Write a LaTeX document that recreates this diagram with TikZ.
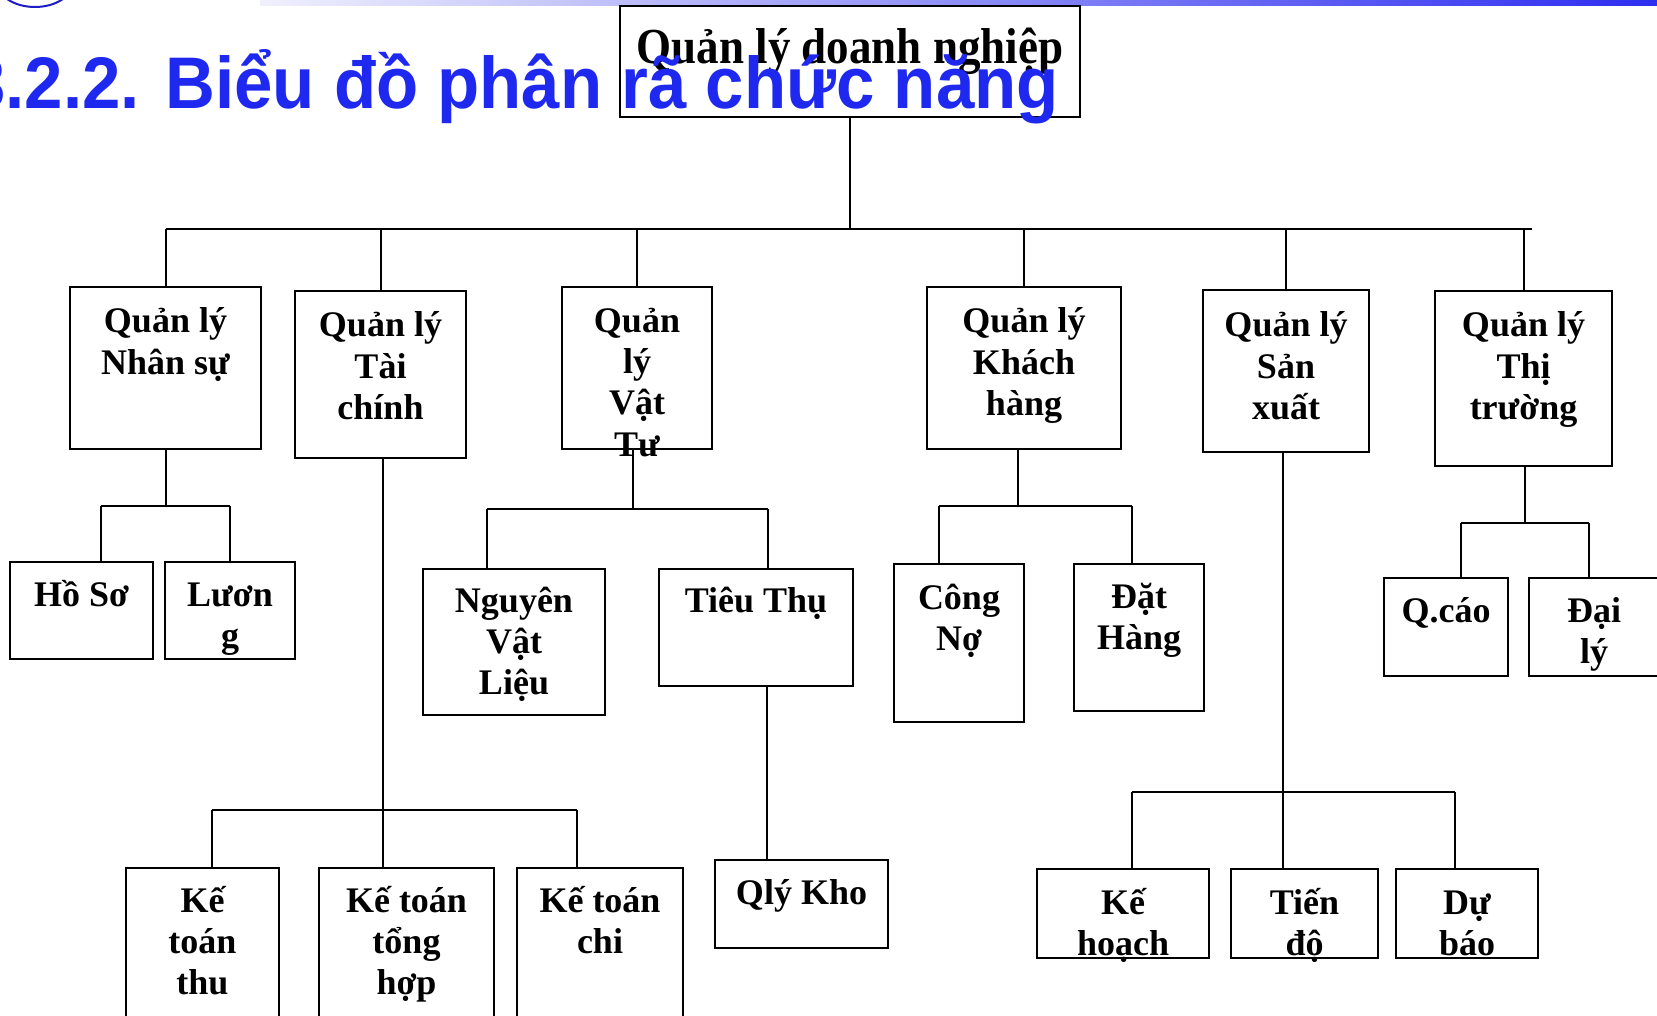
\documentclass[tikz,border=0pt]{standalone}
\usepackage{fontspec}
\usepackage{graphicx}
\setmainfont{Liberation Serif}
\newfontfamily\titlefont{Liberation Sans}
\definecolor{titleblue}{RGB}{30,40,238}
\definecolor{barblue}{RGB}{45,45,240}
\definecolor{barlight}{RGB}{240,240,253}
\definecolor{arcblue}{RGB}{30,30,200}
\newcommand\mkbox[5]{\node[box, minimum width={(#4-#2)*1pt}, minimum height={(#5-#3)*1pt}] (#1) at ({(#2+#4)/2},{(#3+#5)/2}) {};}
\newcommand\mklbl[4]{\node[lbl] (#1) at (#2,#3) {\begin{tabular}[t]{@{}c@{}}#4\end{tabular}};}
\begin{document}
\begin{tikzpicture}[x=1pt,y=-1pt,
  box/.style={draw=black, line width=2pt, rectangle, inner sep=0pt},
  lbl/.style={anchor=base, inner sep=0pt, font=\bfseries\fontsize{36}{41.4}\selectfont},
  conn/.style={draw=black, line width=2pt}]
\path[use as bounding box] (0,0) rectangle (1657,1016);
\clip (0,0) rectangle (1657,1016);
\fill[white] (0,0) rectangle (1657,1016);
% top decoration
\shade[left color=barlight, right color=barblue] (260,0) rectangle (1657,6);
\draw[arcblue, line width=2pt] (35,-18) ellipse [x radius=38, y radius=25];
% boxes
\mkbox{root}{620}{6}{1080}{117}
\mkbox{ns}{70}{287}{261}{449}
\mkbox{tc}{295}{291}{466}{458}
\mkbox{vt}{562}{287}{712}{449}
\mkbox{kh}{927}{287}{1121}{449}
\mkbox{sx}{1203}{290}{1369}{452}
\mkbox{tt}{1435}{291}{1612}{466}
\mkbox{hs}{10}{562}{153}{659}
\mkbox{lu}{165}{562}{295}{659}
\mkbox{kthu}{126}{868}{279}{1040}
\mkbox{ktth}{319}{868}{494}{1040}
\mkbox{kchi}{517}{868}{683}{1040}
\mkbox{nvl}{423}{569}{605}{715}
\mkbox{tth}{659}{569}{853}{686}
\mkbox{kho}{715}{860}{888}{948}
\mkbox{cn}{894}{564}{1024}{722}
\mkbox{dh}{1074}{564}{1204}{711}
\mkbox{khoach}{1037}{869}{1209}{958}
\mkbox{td}{1231}{869}{1378}{958}
\mkbox{db}{1396}{869}{1538}{958}
\mkbox{qc}{1384}{578}{1508}{676}
\mkbox{dl}{1529}{578}{1662}{676}
% connectors: root bus
\coordinate (busL) at (165.5,229);
\coordinate (busR) at (1532,229);
\draw[conn] (root.south) -- (root.south |- busL);
\draw[conn] (busL) -- (busR);
\foreach \n in {ns,tc,vt,kh,sx,tt} \draw[conn] (\n.north) -- (\n.north |- busL);
% Nhan su
\coordinate (nsL) at (101,506); \coordinate (nsR) at (230,506);
\draw[conn] (ns.south) -- (ns.south |- nsL);
\draw[conn] (nsL) -- (nsR);
\draw[conn] (nsL) -- (nsL |- hs.north);
\draw[conn] (nsR) -- (nsR |- lu.north);
% Tai chinh
\coordinate (tcJ) at (383,810); \coordinate (tcL) at (212,810); \coordinate (tcR) at (577,810);
\draw[conn] (tcJ |- tc.south) -- (tcJ |- ktth.north);
\draw[conn] (tcL) -- (tcR);
\draw[conn] (tcL) -- (tcL |- kthu.north);
\draw[conn] (tcR) -- (tcR |- kchi.north);
% Vat tu
\coordinate (vtJ) at (633,509); \coordinate (vtL) at (487,509); \coordinate (vtR) at (768,509);
\draw[conn] (vtJ |- vt.south) -- (vtJ);
\draw[conn] (vtL) -- (vtR);
\draw[conn] (vtL) -- (vtL |- nvl.north);
\draw[conn] (vtR) -- (vtR |- tth.north);
\coordinate (tthJ) at (767,700);
\draw[conn] (tthJ |- tth.south) -- (tthJ |- kho.north);
% Khach hang
\coordinate (khJ) at (1018,506); \coordinate (khL) at (939,506); \coordinate (khR) at (1132,506);
\draw[conn] (khJ |- kh.south) -- (khJ);
\draw[conn] (khL) -- (khR);
\draw[conn] (khL) -- (khL |- cn.north);
\draw[conn] (khR) -- (khR |- dh.north);
% San xuat
\coordinate (sxJ) at (1283,792); \coordinate (sxL) at (1132,792); \coordinate (sxR) at (1455,792);
\draw[conn] (sxJ |- sx.south) -- (sxJ |- td.north);
\draw[conn] (sxL) -- (sxR);
\draw[conn] (sxL) -- (sxL |- khoach.north);
\draw[conn] (sxR) -- (sxR |- db.north);
% Thi truong
\coordinate (ttJ) at (1525,523); \coordinate (ttL) at (1461,523); \coordinate (ttR) at (1589,523);
\draw[conn] (ttJ |- tt.south) -- (ttJ);
\draw[conn] (ttL) -- (ttR);
\draw[conn] (ttL) -- (ttL |- qc.north);
\draw[conn] (ttR) -- (ttR |- dl.north);
% labels
\node[lbl, font=\bfseries\fontsize{45}{52}\selectfont] (root-t) at (850,64) {\scalebox{1}[1.12]{Quản lý doanh nghiệp}};
\mklbl{ns-t}{165.5}{333}{Quản lý\\Nhân sự}
\mklbl{tc-t}{380.5}{337}{Quản lý\\Tài\\chính}
\mklbl{vt-t}{637}{332}{Quản\\lý\\Vật\\Tư}
\mklbl{kh-t}{1024}{333}{Quản lý\\Khách\\hàng}
\mklbl{sx-t}{1286}{337}{Quản lý\\Sản\\xuất}
\mklbl{tt-t}{1523.5}{337}{Quản lý\\Thị\\trường}
\mklbl{hs-t}{81.5}{606}{Hồ Sơ}
\mklbl{lu-t}{230}{606}{Lươn\\g}
\mklbl{kthu-t}{202.5}{912}{Kế\\toán\\thu}
\mklbl{ktth-t}{406.5}{912}{Kế toán\\tổng\\hợp}
\mklbl{kchi-t}{600}{912}{Kế toán\\chi}
\mklbl{nvl-t}{514}{612}{Nguyên\\Vật\\Liệu}
\mklbl{tth-t}{756}{612}{Tiêu Thụ}
\mklbl{kho-t}{801.5}{904}{Qlý Kho}
\mklbl{cn-t}{959}{609}{Công\\Nợ}
\mklbl{dh-t}{1139}{608}{Đặt\\Hàng}
\mklbl{khoach-t}{1123}{914}{Kế\\hoạch}
\mklbl{td-t}{1304.5}{914}{Tiến\\độ}
\mklbl{db-t}{1467}{914}{Dự\\báo}
\mklbl{qc-t}{1446}{622}{Q.cáo}
\mklbl{dl-t}{1594}{622}{Đại\\lý}
% title
\node[anchor=base east, inner sep=0pt, text=titleblue, font=\titlefont\bfseries\fontsize{69}{80}\selectfont] (title) at (1059,109) {\scalebox{1}[1.06]{3.2.2. Biểu đồ phân rã chức năng}};
\end{tikzpicture}
\end{document}
